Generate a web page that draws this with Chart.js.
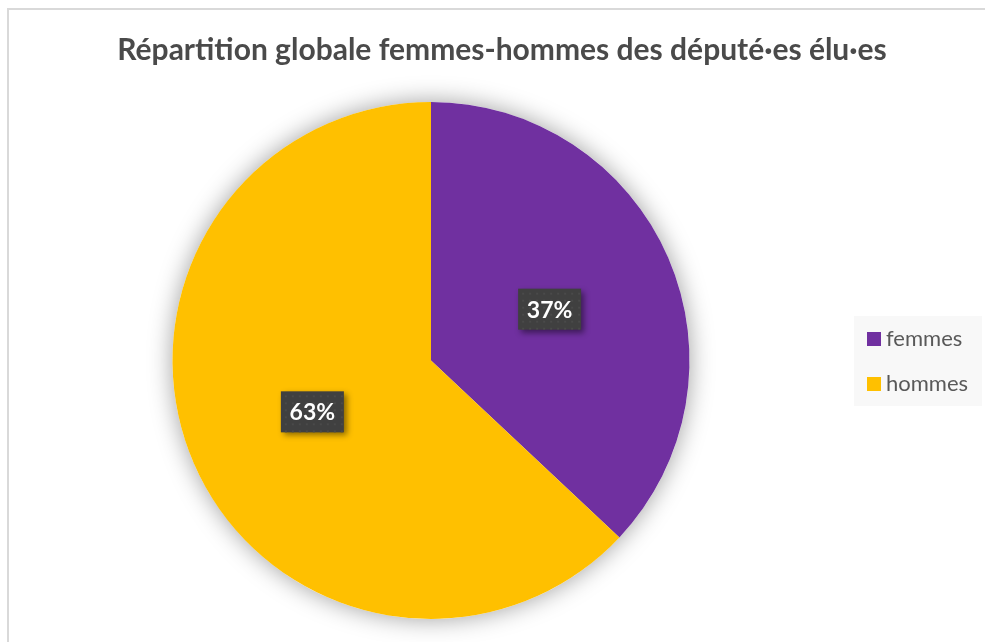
<!DOCTYPE html>
<html>
<head>
<meta charset="utf-8">
<script src="https://cdn.jsdelivr.net/npm/chart.js@4/dist/chart.umd.min.js"></script>
<style>
  html, body { margin: 0; padding: 0; background: #fff; overflow: hidden; }
  #wrap { position: absolute; left: 0; top: 0; width: 985px; height: 642px; }
</style>
</head>
<body>
<div id="wrap"><canvas id="chart"></canvas></div>
<script>
// data
const titleText = 'Répartition globale femmes-hommes des député·es élu·es';
const categories = ['femmes', 'hommes'];
const shares = [37, 63];
const sliceColors = ['#7030a0', '#ffc000'];

const textGrey = '#595959';

// frame, title and soft shadow behind the pie
const framePlugin = {
    id: 'frame',
    beforeDraw(chart) {
        const ctx = chart.ctx;
        ctx.save();
        ctx.strokeStyle = '#d9d9d9';
        ctx.lineWidth = 2;
        ctx.strokeRect(8, 9, 1100, 800);
        ctx.fillStyle = '#4a4a4a';
        ctx.font = 'bold 30px Lato';
        ctx.textAlign = 'center';
        ctx.textBaseline = 'alphabetic';
        ctx.fillText(titleText, 502, 60);
        ctx.restore();
    },
    beforeDatasetsDraw(chart) {
        const arc = chart.getDatasetMeta(0).data[0];
        if (!arc) return;
        const ctx = chart.ctx;
        ctx.save();
        ctx.shadowColor = 'rgba(0, 0, 0, 0.38)';
        ctx.shadowBlur = 24;
        ctx.fillStyle = '#fff';
        ctx.beginPath();
        ctx.arc(arc.x, arc.y, arc.outerRadius, 0, Math.PI * 2);
        ctx.fill();
        ctx.restore();
    }
};

// dark percentage boxes in the middle of each slice
const percentBoxes = {
    id: 'percentBoxes',
    afterDatasetsDraw(chart) {
        const ctx = chart.ctx;
        const values = chart.data.datasets[0].data;
        const total = values.reduce((a, b) => a + b, 0);
        chart.getDatasetMeta(0).data.forEach((arc, i) => {
            const pos = arc.tooltipPosition();
            const label = Math.round(values[i] / total * 100) + '%';
            ctx.save();
            ctx.font = 'bold 23px Lato';
            const w = 63;
            const h = 41;
            ctx.shadowColor = 'rgba(0, 0, 0, 0.45)';
            ctx.shadowBlur = 6;
            ctx.shadowOffsetX = 3;
            ctx.shadowOffsetY = 3;
            ctx.fillStyle = '#404040';
            ctx.fillRect(pos.x - w / 2, pos.y - h / 2, w, h);
            ctx.shadowColor = 'transparent';
            ctx.fillStyle = '#4a4a4a';
            for (let dx = 4; dx < w; dx += 7) {
                for (let dy = 4; dy < h; dy += 7) {
                    ctx.fillRect(pos.x - w / 2 + dx, pos.y - h / 2 + dy, 2, 2);
                }
            }
            ctx.fillStyle = '#fff';
            ctx.textAlign = 'center';
            ctx.textBaseline = 'middle';
            ctx.fillText(label, pos.x, pos.y + 1);
            ctx.restore();
        });
    }
};

// legend on the grey panel at the right
const sideLegend = {
    id: 'sideLegend',
    afterDraw(chart) {
        const ctx = chart.ctx;
        const ds = chart.data.datasets[0];
        ctx.save();
        ctx.fillStyle = '#f8f8f8';
        ctx.fillRect(854, 316, 128, 90);
        ctx.font = '22px Lato';
        ctx.textBaseline = 'middle';
        ctx.textAlign = 'left';
        chart.data.labels.forEach((lab, i) => {
            const y = 339 + i * 45;
            ctx.fillStyle = ds.backgroundColor[i];
            ctx.fillRect(867, y - 7, 14, 14);
            ctx.fillStyle = textGrey;
            ctx.fillText(lab, 886, y);
        });
        ctx.restore();
    }
};

new Chart(document.getElementById('chart'), {
    type: 'pie',
    data: {
        labels: categories,
        datasets: [{
            data: shares,
            backgroundColor: sliceColors,
            borderWidth: 0,
            offset: 0,
            hoverOffset: 0
        }]
    },
    options: {
        responsive: true,
        maintainAspectRatio: false,
        animation: false,
        events: [],
        layout: {
            padding: { top: 102, bottom: 23, left: 172, right: 295 }
        },
        plugins: {
            legend: { display: false },
            title: { display: false },
            tooltip: { enabled: false }
        }
    },
    plugins: [framePlugin, percentBoxes, sideLegend]
});
</script>
</body>
</html>
